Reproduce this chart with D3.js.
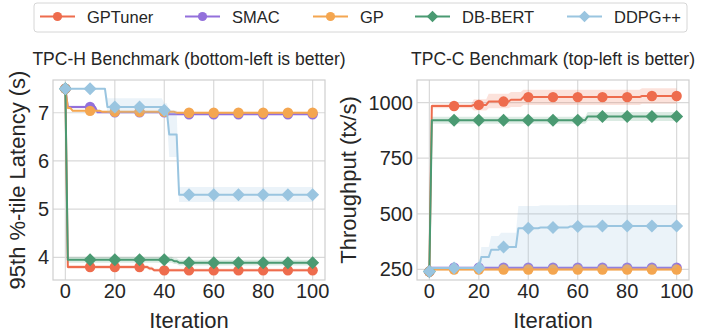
<!DOCTYPE html>
<html>
<head>
<meta charset="utf-8">
<script src="https://cdn.jsdelivr.net/npm/d3@7"></script>
<style>
  body { margin: 0; background: #fff; }
  svg { font-family: "Liberation Sans", Arial, sans-serif; }
  text { fill: #262626; }
</style>
</head>
<body>
<svg id="chart" width="707" height="332"></svg>
<script>
// methods, in plotting order
var methods = ["GPTuner", "SMAC", "GP", "DB-BERT", "DDPG++"];
var colors = ["#ee6c4d", "#9370db", "#f4a650", "#4a9a72", "#9ac5e0"];
var shapes = ["circle", "circle", "circle", "diamond", "diamond"];

var xTicks = [0, 20, 40, 60, 80, 100];
var markIters = [0, 10, 20, 30, 40, 50, 60, 70, 80, 90, 100];

// each run: [first iteration, mean, band low, band high], held until the next run starts
// TPC-H 95th percentile latency (s)
var tpchGPTuner = [[0, 7.5, 7.5, 7.5], [1, 3.80, 3.76, 3.84], [34, 3.77, 3.73, 3.81], [36, 3.73, 3.70, 3.77]];
var tpchSMAC = [[0, 7.5, 7.5, 7.5], [1, 7.12, 7.09, 7.15], [13, 7.01, 6.99, 7.03], [41, 6.97, 6.95, 6.99]];
var tpchGP = [[0, 7.5, 7.5, 7.5], [1, 7.1, 7.07, 7.13], [3, 7.04, 7.02, 7.06], [15, 7.02, 7.0, 7.04], [45, 7.0, 6.98, 7.02]];
var tpchDBBERT = [[0, 7.5, 7.5, 7.5], [1, 3.95, 3.89, 4.01], [44, 3.92, 3.86, 3.98], [46, 3.89, 3.83, 3.95]];
var tpchDDPG = [[0, 7.5, 7.5, 7.5], [17, 7.12, 6.99, 7.3], [40, 7.05, 6.95, 7.2], [42, 6.55, 6.08, 7.05], [46, 5.3, 5.15, 5.46]];
var tpchYTicks = [4, 5, 6, 7];

// TPC-C throughput (tx/s)
var tpccGPTuner = [[0, 240, 240, 240], [1, 985, 975, 995], [18, 990, 965, 1015], [24, 1005, 975, 1040], [33, 1013, 980, 1048], [38, 1025, 990, 1058], [86, 1030, 995, 1065]];
var tpccSMAC = [[0, 240, 240, 240], [1, 257, 252, 262]];
var tpccGP = [[0, 240, 240, 240], [1, 249, 243, 255]];
var tpccDBBERT = [[0, 240, 240, 240], [1, 921, 905, 937], [64, 938, 918, 958]];
var tpccDDPG = [[0, 240, 240, 240], [1, 256, 252, 260], [21, 305, 255, 350], [25, 338, 255, 400], [29, 350, 255, 415], [36, 435, 255, 535], [45, 438, 255, 538], [57, 443, 255, 540], [70, 445, 255, 540]];
var tpccYTicks = [250, 500, 750, 1000];

var svg = d3.select("#chart");

// turn runs into per-iteration corner points (a change takes one iteration)
var expand = function(runs) {
  var pts = [];
  runs.forEach(function(r, i) {
    var end = i < runs.length - 1 ? runs[i + 1][0] - 1 : 100;
    pts.push({x: r[0], y: r[1], lo: r[2], hi: r[3]});
    if (end > r[0]) pts.push({x: end, y: r[1], lo: r[2], hi: r[3]});
  });
  return pts;
};

var valueAt = function(runs, it) {
  var v = runs[0][1];
  runs.forEach(function(r) { if (r[0] <= it) v = r[1]; });
  return v;
};

var drawMarker = function(g, shape, cx, cy, color, size) {
  if (shape == "circle") {
    g.append("circle").attr("cx", cx).attr("cy", cy).attr("r", size).attr("fill", color);
  } else {
    var s = size * 1.25;
    g.append("path")
      .attr("d", "M" + cx + "," + (cy - s) + "L" + (cx + s) + "," + cy + "L" + cx + "," + (cy + s) + "L" + (cx - s) + "," + cy + "Z")
      .attr("fill", color);
  }
};

var drawPanel = function(opts) {
  var x = d3.scaleLinear().domain([-5, 105]).range([opts.left, opts.right]),
      y = d3.scaleLinear().domain(opts.yDomain).range([280, 80]);

  var g = svg.append("g");

  // grid
  g.selectAll("line.vgrid").data(xTicks).enter().append("line")
    .attr("x1", function(d) { return x(d); }).attr("x2", function(d) { return x(d); })
    .attr("y1", 80).attr("y2", 280)
    .attr("stroke", "#d9d9d9").attr("stroke-width", 1.2);
  g.selectAll("line.hgrid").data(opts.yTicks).enter().append("line")
    .attr("x1", opts.left).attr("x2", opts.right)
    .attr("y1", function(d) { return y(d); }).attr("y2", function(d) { return y(d); })
    .attr("stroke", "#d9d9d9").attr("stroke-width", 1.2);

  // frame
  g.append("rect")
    .attr("x", opts.left).attr("y", 80)
    .attr("width", opts.right - opts.left).attr("height", 200)
    .attr("fill", "none").attr("stroke", "#cfcfcf").attr("stroke-width", 1.2);

  // tick labels
  g.selectAll("text.xt").data(xTicks).enter().append("text")
    .attr("x", function(d) { return x(d); }).attr("y", 298)
    .attr("text-anchor", "middle").style("font-size", "20px")
    .text(function(d) { return d; });
  g.selectAll("text.yt").data(opts.yTicks).enter().append("text")
    .attr("x", opts.left - 4).attr("y", function(d) { return y(d) + 7; })
    .attr("text-anchor", "end").style("font-size", "20px")
    .text(function(d) { return d; });

  // axis labels and title
  g.append("text")
    .attr("x", (opts.left + opts.right) / 2).attr("y", 328)
    .attr("text-anchor", "middle").style("font-size", "22px")
    .text("Iteration");
  g.append("text")
    .attr("transform", "translate(" + opts.yLabelX + ",180) rotate(-90)")
    .attr("text-anchor", "middle").style("font-size", "22px")
    .text(opts.yLabel);
  g.append("text")
    .attr("x", (opts.left + opts.right) / 2).attr("y", 65)
    .attr("text-anchor", "middle").style("font-size", "17.5px")
    .text(opts.title);

  var line = d3.line().x(function(d) { return x(d.x); }).y(function(d) { return y(d.y); }),
      band = d3.area().x(function(d) { return x(d.x); })
        .y0(function(d) { return y(d.lo); }).y1(function(d) { return y(d.hi); });

  var plot = g.append("g");
  opts.series.forEach(function(runs, i) {
    var pts = expand(runs);
    plot.append("path").datum(pts).attr("d", band)
      .attr("fill", colors[i]).attr("fill-opacity", 0.2);
    plot.append("path").datum(pts).attr("d", line)
      .attr("fill", "none").attr("stroke", colors[i]).attr("stroke-width", 2)
      .attr("stroke-linejoin", "round");
    markIters.forEach(function(it) {
      drawMarker(plot, shapes[i], x(it), y(valueAt(runs, it)), colors[i], 5.2);
    });
  });
};

drawPanel({
  left: 53, right: 325,
  yDomain: [3.53, 7.68], yTicks: tpchYTicks,
  series: [tpchGPTuner, tpchSMAC, tpchGP, tpchDBBERT, tpchDDPG],
  title: "TPC-H Benchmark (bottom-left is better)",
  yLabel: "95th %-tile Latency (s)", yLabelX: 25
});

drawPanel({
  left: 417, right: 689,
  yDomain: [202, 1102], yTicks: tpccYTicks,
  series: [tpccGPTuner, tpccSMAC, tpccGP, tpccDBBERT, tpccDDPG],
  title: "TPC-C Benchmark (top-left is better)",
  yLabel: "Throughput (tx/s)", yLabelX: 356
});

// legend
var legendX = [40, 185, 313, 415, 567];
var legend = svg.append("g");
legend.append("rect")
  .attr("x", 34).attr("y", 3).attr("width", 653).attr("height", 29)
  .attr("rx", 3).attr("fill", "#fff").attr("stroke", "#d6d6d6");
methods.forEach(function(m, i) {
  var lx = legendX[i];
  legend.append("line")
    .attr("x1", lx).attr("x2", lx + 35).attr("y1", 16.5).attr("y2", 16.5)
    .attr("stroke", colors[i]).attr("stroke-width", 2);
  drawMarker(legend, shapes[i], lx + 17.5, 16.5, colors[i], 4.6);
  legend.append("text")
    .attr("x", lx + 47).attr("y", 22.5)
    .style("font-size", "16.5px")
    .text(m);
});
</script>
</body>
</html>
